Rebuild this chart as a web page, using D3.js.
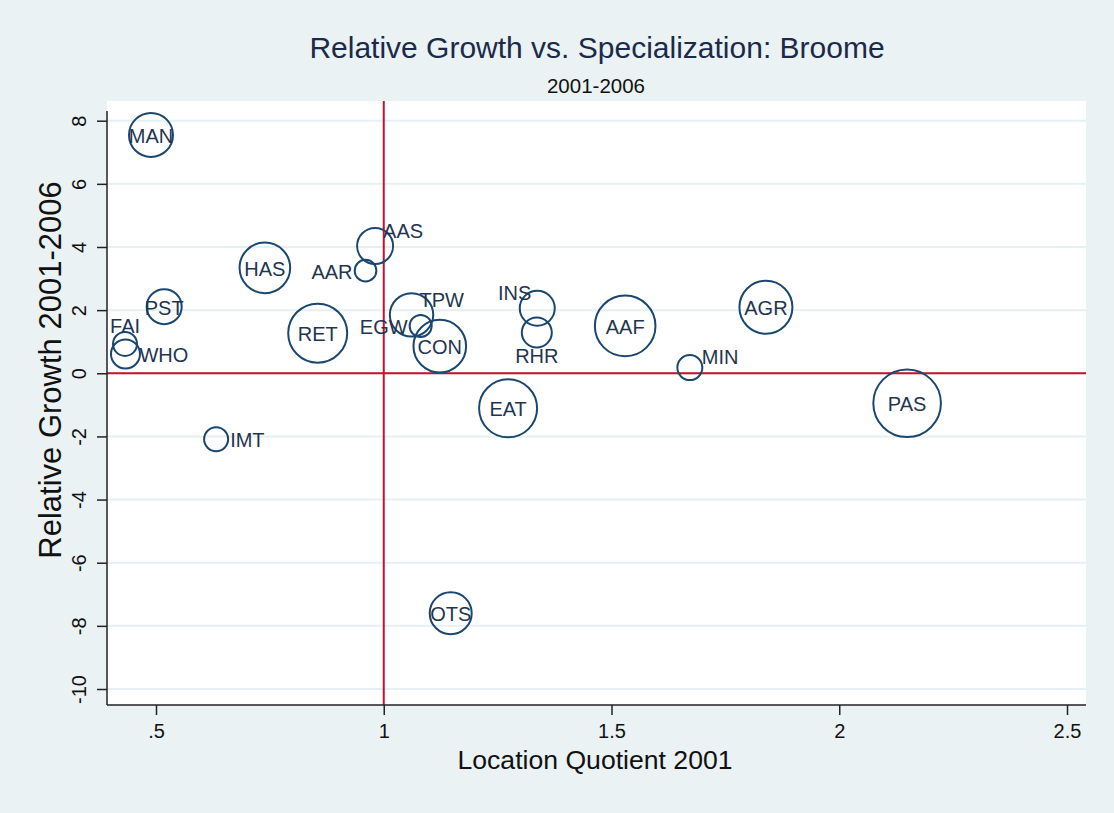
<!DOCTYPE html>
<html>
<head>
<meta charset="utf-8">
<script src="https://cdn.jsdelivr.net/npm/d3@7"></script>
<style>
  body { margin: 0; background: #eaf2f3; }
  text { font-family: "Liberation Sans", Arial, Helvetica, sans-serif; }
</style>
</head>
<body>
<script>
var width = 1114,
    height = 813;

// industry codes, location quotient 2001 (x), relative growth 2001-2006 (y), bubble weight
var codes  = ["MAN", "HAS", "AAS", "AAR", "PST", "FAI", "WHO", "RET", "IMT", "TPW",
              "EGW", "CON", "INS", "RHR", "EAT", "AAF", "AGR", "MIN", "PAS", "OTS"];
var lq     = [0.489, 0.739, 0.981, 0.960, 0.518, 0.432, 0.433, 0.855, 0.632, 1.061,
              1.081, 1.123, 1.337, 1.336, 1.273, 1.530, 1.839, 1.672, 2.149, 1.147];
var growth = [7.55, 3.34, 4.03, 3.25, 2.11, 0.93, 0.61, 1.27, -2.09, 1.85,
              1.50, 0.86, 2.06, 1.29, -1.11, 1.50, 2.09, 0.18, -0.95, -7.60];
var weight = [484, 640, 324, 117, 306, 144, 210, 870, 144, 471,
              121, 692, 306, 225, 841, 918, 702, 156, 1142, 441];

var xTicks = [0.5, 1, 1.5, 2, 2.5],
    xTickLabels = [".5", "1", "1.5", "2", "2.5"];
var yTicks = [-10, -8, -6, -4, -2, 0, 2, 4, 6, 8];

// where each marker label sits (clock position, 0 = centred)
var labelPos = {MAN: 0, HAS: 0, AAS: 1, AAR: 9, PST: 0, FAI: 12, WHO: 3, RET: 0, IMT: 3, TPW: 1,
                EGW: 9, CON: 0, INS: 11, RHR: 6, EAT: 0, AAF: 0, AGR: 0, MIN: 2, PAS: 0, OTS: 0};
var posOffset = {
  0:  {dx: 0,   dy: 1,   anchor: "middle"},
  1:  {dx: 8,   dy: -15, anchor: "start"},
  2:  {dx: 12,  dy: -11, anchor: "start"},
  3:  {dx: 14,  dy: 1,   anchor: "start"},
  6:  {dx: 0,   dy: 23,  anchor: "middle"},
  9:  {dx: -13, dy: 1,   anchor: "end"},
  11: {dx: -6,  dy: -15, anchor: "end"},
  12: {dx: 0,   dy: -18, anchor: "middle"}
};

var navy = "#1a476f",
    red = "#c8102e",
    grid = "#e6eff1";

//plot region
var plot = {left: 107, right: 1086, top: 101, bottom: 705};

var x = d3.scaleLinear().domain([0.5, 2.5]).range([156, 1067]);
var y = d3.scaleLinear().domain([-10, 8]).range([689, 120.7]);
var r = d3.scaleSqrt().domain([0, d3.max(weight)]).range([0, 33.8]);

var data = codes.map(function(c, i) {
  return {code: c, lq: lq[i], growth: growth[i], w: weight[i]};
});

var svg = d3.select("body")
    .append("svg")
    .attr("width", width)
    .attr("height", height);

svg.append("rect")
    .attr("width", width)
    .attr("height", height)
    .attr("fill", "#eaf2f3");

svg.append("rect")
    .attr("x", plot.left)
    .attr("y", plot.top)
    .attr("width", plot.right - plot.left)
    .attr("height", plot.bottom - plot.top)
    .attr("fill", "white");

// gridlines
svg.append("g").selectAll("line")
    .data(yTicks)
    .enter().append("line")
      .attr("x1", plot.left)
      .attr("x2", plot.right)
      .attr("y1", function(d) { return y(d); })
      .attr("y2", function(d) { return y(d); })
      .style("stroke", grid)
      .style("stroke-width", 2);

// reference lines
svg.append("line")
    .attr("x1", x(1)).attr("x2", x(1))
    .attr("y1", plot.top).attr("y2", plot.bottom)
    .style("stroke", red)
    .style("stroke-width", 2);
svg.append("line")
    .attr("x1", plot.left).attr("x2", plot.right)
    .attr("y1", y(0)).attr("y2", y(0))
    .style("stroke", red)
    .style("stroke-width", 2);

// x axis
var xAxis = d3.axisBottom(x)
    .tickValues(xTicks)
    .tickFormat(function(d, i) { return xTickLabels[i]; })
    .tickSize(10)
    .tickPadding(9);

var gx = svg.append("g")
    .attr("transform", "translate(0," + plot.bottom + ")")
    .call(xAxis);
gx.select(".domain").remove();
gx.selectAll(".tick line").style("stroke", "#222").style("stroke-width", 1.5);
gx.selectAll(".tick text")
    .style("font-size", "20px")
    .style("fill", "#111");

svg.append("line")
    .attr("x1", plot.left).attr("x2", plot.right)
    .attr("y1", plot.bottom).attr("y2", plot.bottom)
    .style("stroke", "#222")
    .style("stroke-width", 1.5);

// y axis, labels turned on their side
var yAxis = d3.axisLeft(y)
    .tickValues(yTicks)
    .tickFormat(function(d) { return String(d); })
    .tickSize(10)
    .tickPadding(0);

var gy = svg.append("g")
    .attr("transform", "translate(" + plot.left + ",0)")
    .call(yAxis);
gy.select(".domain").remove();
gy.selectAll(".tick line").style("stroke", "#222").style("stroke-width", 1.5);
gy.selectAll(".tick text")
    .attr("x", null)
    .attr("dy", null)
    .attr("transform", "translate(-21,0) rotate(-90)")
    .attr("text-anchor", "middle")
    .style("font-size", "20px")
    .style("fill", "#111");

svg.append("line")
    .attr("x1", plot.left).attr("x2", plot.left)
    .attr("y1", 111).attr("y2", plot.bottom)
    .style("stroke", "#222")
    .style("stroke-width", 1.5);

// bubbles
svg.append("g").selectAll("circle")
    .data(data)
    .enter().append("circle")
      .attr("cx", function(d) { return x(d.lq); })
      .attr("cy", function(d) { return y(d.growth); })
      .attr("r", function(d) { return r(d.w); })
      .style("fill", "none")
      .style("stroke", navy)
      .style("stroke-width", 2);

// marker labels
svg.append("g").selectAll("text")
    .data(data)
    .enter().append("text")
      .attr("x", function(d) { return x(d.lq) + posOffset[labelPos[d.code]].dx; })
      .attr("y", function(d) { return y(d.growth) + posOffset[labelPos[d.code]].dy; })
      .attr("text-anchor", function(d) { return posOffset[labelPos[d.code]].anchor; })
      .attr("dominant-baseline", "central")
      .style("font-size", "20px")
      .style("fill", "#1f3550")
      .text(function(d) { return d.code; });

// titles
svg.append("text")
    .attr("x", 597)
    .attr("y", 58)
    .attr("text-anchor", "middle")
    .style("font-size", "30px")
    .style("fill", "#1c2a4a")
    .text("Relative Growth vs. Specialization: Broome");

svg.append("text")
    .attr("x", 596)
    .attr("y", 93)
    .attr("text-anchor", "middle")
    .style("font-size", "20.5px")
    .style("fill", "#111")
    .text("2001-2006");

svg.append("text")
    .attr("x", 595)
    .attr("y", 769)
    .attr("text-anchor", "middle")
    .style("font-size", "26.6px")
    .style("fill", "#111")
    .text("Location Quotient 2001");

svg.append("text")
    .attr("transform", "translate(61,370) rotate(-90)")
    .attr("text-anchor", "middle")
    .style("font-size", "31px")
    .style("fill", "#111")
    .text("Relative Growth 2001-2006");
</script>
</body>
</html>
